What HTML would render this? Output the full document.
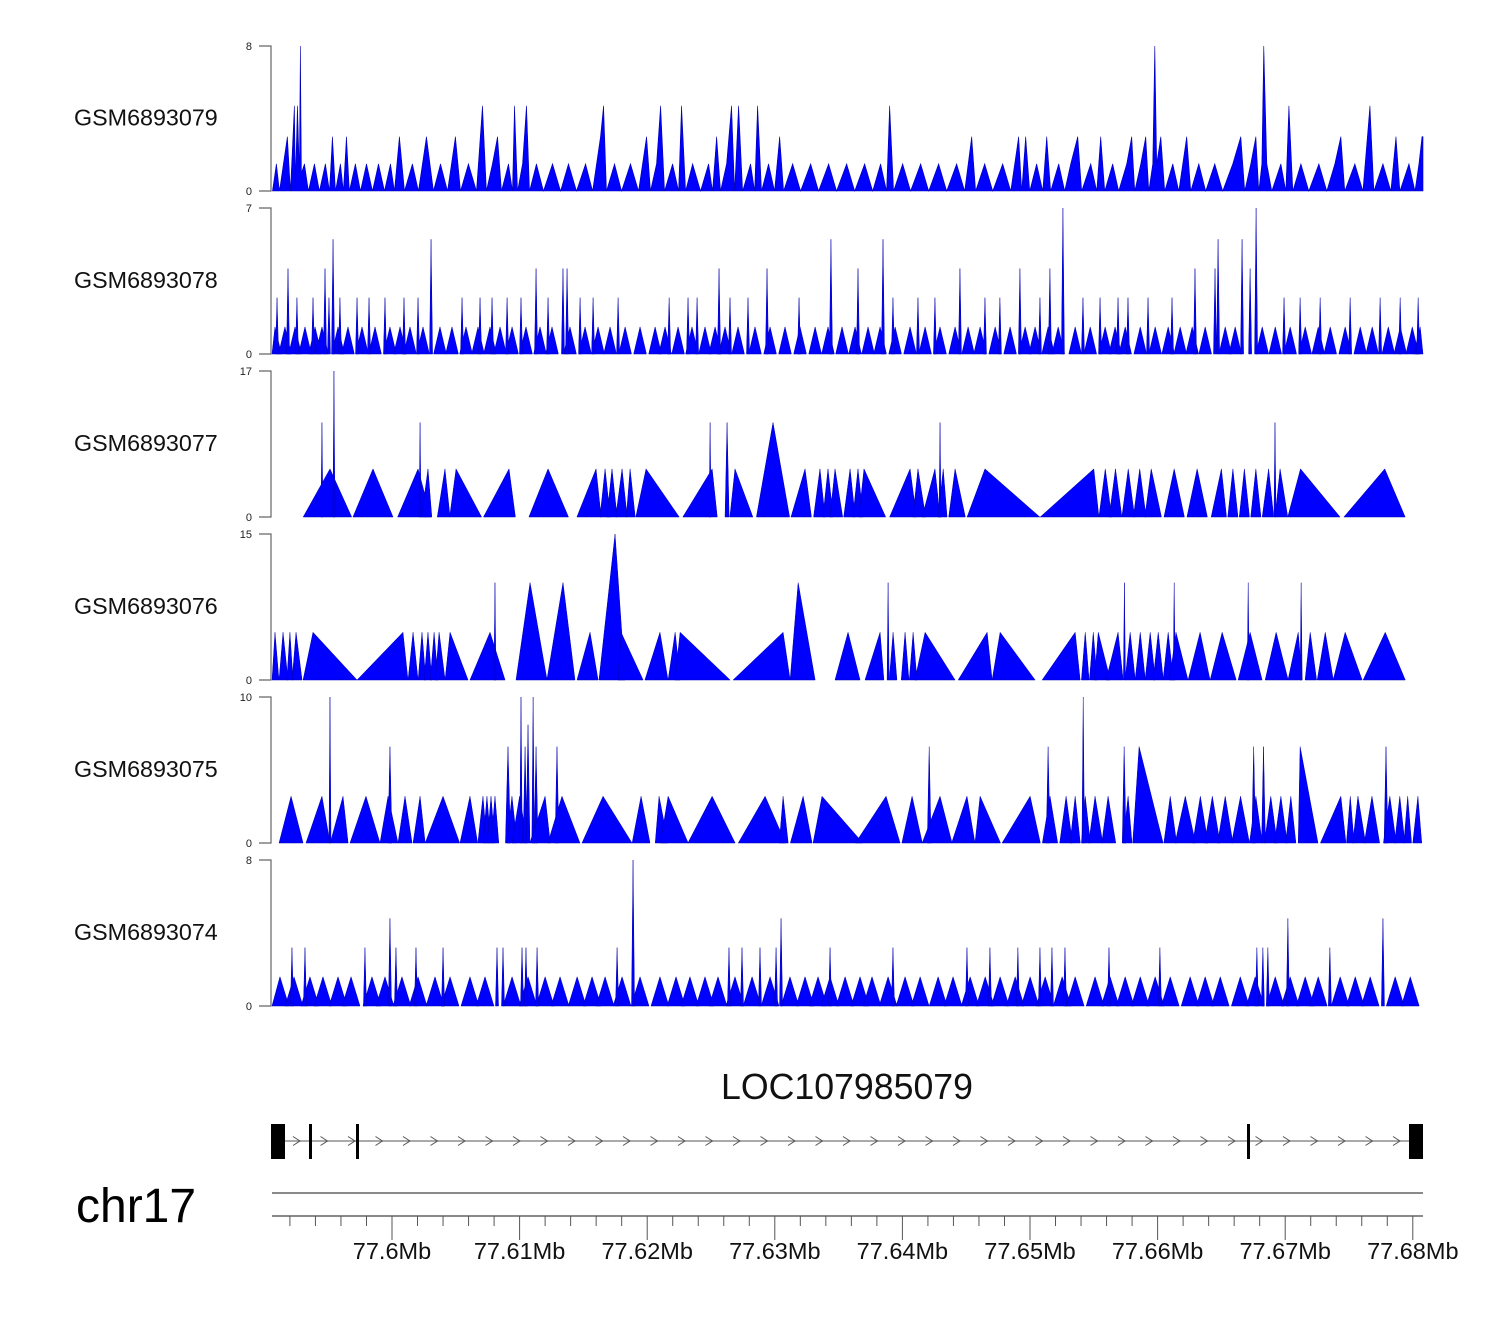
<!DOCTYPE html>
<html><head><meta charset="utf-8">
<style>
html,body{margin:0;padding:0;background:#fff;}
svg{display:block;font-family:"Liberation Sans",Arial,sans-serif;}
</style></head>
<body>
<svg id="chart" width="1500" height="1320" viewBox="0 0 1500 1320" xmlns="http://www.w3.org/2000/svg"></svg>
<script>
// ---- genomic positions in kb offset from 77,590 kb ----
const track1Pos=[0.63,0.94,1.18,1.49,1.80,2.04,2.35,2.43,2.59,2.74,2.82,2.90,3.14,3.45,3.92,4.31,4.78,5.10,5.33,5.57,5.96,6.19,6.43,6.66,7.13,7.53,8.0,8.47,8.94,9.41,9.88,10.19,10.58,10.98,11.6,12.07,12.7,13.25,13.8,14.35,14.97,15.37,15.99,16.62,17.09,17.4,17.87,18.27,18.58,19.13,19.44,19.6,19.84,20.23,20.54,20.78,21.32,21.87,22.58,23.21,23.83,24.46,25.17,25.72,26.34,26.58,26.81,27.44,27.99,28.69,29.32,29.95,30.26,30.73,31.05,31.36,31.99,32.46,32.69,33.01,33.56,34.18,34.81,35.12,35.44,35.75,36.22,36.61,36.85,37.16,37.48,38.1,38.42,38.65,38.96,39.51,39.98,40.38,40.69,41.4,42.02,42.81,43.43,44.22,44.84,45.63,46.26,47.04,47.67,48.29,48.76,49.0,49.31,50.02,50.64,51.43,52.06,52.84,53.47,54.25,54.88,55.43,55.74,56.45,57.08,57.86,58.49,59.11,59.35,59.66,59.98,60.52,61.0,61.31,61.62,62.25,62.72,63.19,63.74,64.05,64.76,65.23,65.54,65.86,66.48,66.95,67.58,67.97,68.21,68.68,69.07,69.31,69.62,69.78,69.93,70.25,70.56,71.19,71.66,72.28,72.6,73.23,73.77,74.48,75.1,75.89,76.52,76.83,77.3,77.7,77.93,78.17,78.32,78.56,78.95,79.66,80.05,80.29,80.6,81.23,81.85,82.64,83.26,83.89,84.36,84.67,85.46,86.09,86.64,86.95,87.66,88.28,88.68,88.99,89.7,90.17,90.48,90.72,90.87];
const track1Val=[0,1.5,0,1.5,3,0,4.7,0.5,4.7,1,8,1,1.5,0,1.5,0,1.5,0,3,0,1.5,0,3,0,1.5,0,1.5,0,1.5,0,1.5,0,3,0,1.5,0,3,0,1.5,0,3,0,1.5,0,4.7,0,1.5,3,0,1.5,0,4.7,0,1.5,4.7,0,1.5,0,1.5,0,1.5,0,1.5,0,3,4.7,0,1.5,0,1.5,0,3,0,1.5,4.7,0,1.5,0,4.7,0,1.5,0,1.5,0,3,0,1.5,4.7,0,4.7,0,1.5,0,4.7,0,1.5,0,3,0,1.5,0,1.5,0,1.5,0,1.5,0,1.5,0,1.5,0,4.7,0,1.5,0,1.5,0,1.5,0,1.5,0,3,0,1.5,0,1.5,0,3,0,3,0,1.5,0,3,0,1.5,0,1.5,3,0,1.5,0,3,0,1.5,0,1.5,3,0,1.5,3,0,1.5,8,1.5,3,0,1.5,0,3,0,1.5,0,1.5,0,1.5,3,0,1.5,3,0,1.5,8,1.5,0,1.5,0,4.7,0,1.5,0,1.5,0,1.5,3,0,1.5,0,4.7,0,1.5,0,3,0,1.5,0,1.5,3,3];

const track2BgPos=[0.83,1.61,2.40,3.18,3.97,4.51,5.77,6.55,7.65,8.67,9.84,10.63,11.41,12.43,13.76,14.70,15.80,16.74,17.68,18.47,19.41,20.50,21.60,22.54,23.95,25.13,26.15,27.09,28.27,29.44,30.62,31.40,32.42,33.51,34.53,35.32,36.10,37.12,38.45,39.63,40.80,41.98,43.16,44.17,45.27,46.29,47.31,48.25,49.43,50.60,51.78,52.95,54.13,55.15,56.09,57.27,58.44,59.62,60.40,61.42,62.21,63.54,64.72,65.89,66.67,67.46,68.64,69.81,70.83,71.77,72.71,73.73,75.30,76.08,78.20,79.22,80.39,81.57,82.59,83.53,84.70,85.88,86.82,88.08,89.02,89.96,90.58];
const track2BgVal=[1.3,1.3,1.3,1.3,1.3,1.3,1.3,1.3,1.3,1.3,1.3,1.3,1.3,1.3,1.3,1.3,1.3,1.3,1.3,1.3,1.3,1.3,1.3,1.3,1.3,1.3,1.3,1.3,1.3,1.3,1.3,1.3,1.3,1.3,1.3,1.3,1.3,1.3,1.3,1.3,1.3,1.3,1.3,1.3,1.3,1.3,1.3,1.3,1.3,1.3,1.3,1.3,1.3,1.3,1.3,1.3,1.3,1.3,1.3,1.3,1.3,1.3,1.3,1.3,1.3,1.3,1.3,1.3,1.3,1.3,1.3,1.3,1.3,1.3,1.3,1.3,1.3,1.3,1.3,1.3,1.3,1.3,1.3,1.3,1.3,1.3,1.3];
const track2SpikePos=[0.99,1.85,2.55,3.81,4.75,5.06,5.38,5.92,7.26,8.20,9.45,10.94,12.04,13.06,15.49,16.90,17.84,19.02,20.11,21.29,22.23,23.40,23.72,24.74,25.76,27.72,31.72,33.20,33.91,35.63,36.49,37.90,39.39,41.90,44.40,46.52,48.48,49.26,51.22,52.55,54.51,56.47,57.64,59.21,60.78,61.56,62.58,64.15,65.49,66.90,67.68,69.25,71.13,72.93,74.50,74.74,76.62,77.25,77.72,79.91,81.17,82.74,85.09,87.44,89.01,90.42];
const track2SpikeVal=[2.7,4.1,2.7,2.7,4.1,2.7,5.5,2.7,2.7,2.7,2.7,2.7,2.7,5.5,2.7,2.7,2.7,2.7,2.7,4.1,2.7,4.1,4.1,2.7,2.7,2.7,2.7,2.7,2.7,4.1,2.7,2.7,4.1,2.7,5.5,4.1,5.5,2.7,2.7,2.7,4.1,2.7,2.7,4.1,2.7,4.1,7,2.7,2.7,2.7,2.7,2.7,2.7,4.1,4.1,5.5,5.5,4.1,7,2.7,2.7,2.7,2.7,2.7,2.7,2.7];

const track3Pos=[4.51,5.14,5.45,8.51,12.04,12.2,12.82,14.15,15.02,19.17,22.23,25.99,26.7,27.24,28.03,28.66,29.91,34.93,35.09,36.26,36.88,39.86,42.37,43.54,44.17,44.72,45.90,46.52,46.99,50.60,51.22,52.55,52.95,53.2,54.13,56.47,65.0,65.9,66.7,67.7,68.6,69.5,71.3,73.1,75.0,75.9,76.8,77.7,78.7,79.2,79.6,81.2,87.8];
const track3Val=[11,5.6,17,5.6,5.6,11,5.6,5.6,5.6,5.6,5.6,5.6,5.6,5.6,5.6,5.6,5.6,11,5.6,11,5.6,11,5.6,5.6,5.6,5.6,5.6,5.6,5.6,5.6,5.6,5.6,11,5.6,5.6,5.6,5.6,5.6,5.6,5.6,5.6,5.6,5.6,5.6,5.6,5.6,5.6,5.6,5.6,11,5.6,5.6,5.6];
const track3Left=[.08,2.1,.08,1.57,1.6,.08,.5,.6,.5,2.0,1.5,1.5,.4,.4,.5,.3,.8,.08,2.3,.16,.4,1.3,1.1,.5,.4,.4,.5,.4,.4,1.6,.4,1.0,.08,.4,.5,1.4,4.2,.5,.5,.5,.5,.5,.8,.8,.8,.4,.4,.4,.5,.08,.4,1.0,3.2];
const track3Right=[.08,1.7,.08,1.57,1.0,.08,.3,.4,2.0,.5,1.6,.4,.4,.4,.4,.4,2.6,.08,.4,.16,1.4,1.3,.5,.4,.4,.6,.4,.4,1.7,.5,.6,.4,.08,.3,.8,4.3,.4,.5,.5,.5,.5,.8,.8,.8,.4,.4,.4,.4,.4,.08,.6,3.1,1.6];

const track4Pos=[0.83,1.46,2.0,2.48,3.81,10.86,11.65,12.35,12.82,13.3,13.69,14.55,17.68,18.07,20.82,23.4,25.52,27.48,27.95,31.0,32.19,32.58,40.65,41.83,45.74,48.25,48.88,49.27,50.21,50.84,51.78,56.64,57.66,63.54,64.33,64.96,65.35,66.9,67.4,67.85,68.64,69.42,70.05,70.83,71.3,71.44,73.33,75.06,77.1,77.25,79.29,81.02,81.25,81.96,83.14,84.7,87.84];
const track4Val=[4.9,4.9,4.9,4.9,4.9,4.9,4.9,4.9,4.9,4.9,4.9,4.9,4.9,10,10,10,4.9,15,4.9,4.9,4.9,4.9,4.9,10,4.9,4.9,10,4.9,4.9,4.9,4.9,4.9,4.9,4.9,4.9,4.9,4.9,4.9,10,4.9,4.9,4.9,4.9,4.9,10,4.9,4.9,4.9,10,4.9,4.9,4.9,10,4.9,4.9,4.9,4.9];
const track4Left=[.23,.31,.24,.31,.78,3.6,.39,.3,.3,.3,.3,.39,1.57,.08,1.1,1.26,1.02,1.26,.24,1.18,.55,.4,3.92,.63,1.02,1.18,.08,.3,.3,.3,.8,2.27,.63,2.59,.3,.3,.3,.94,.08,.4,.4,.4,.4,.4,.08,.5,.94,.94,.08,.94,.86,.8,.08,.4,.63,.94,1.73];
const track4Right=[.31,.39,.24,.47,3.45,.39,.39,.3,.3,.3,.47,1.41,1.18,.08,1.33,.94,.63,.78,1.73,.63,.4,3.92,.55,1.33,.94,.3,.08,.3,.3,.3,2.35,.39,2.74,.39,.3,.3,.94,.4,.08,.4,.4,.4,.4,.4,.08,.94,.78,1.1,.08,.94,.94,.3,.08,.5,.63,1.33,1.57];

const track5Pos=[2.09,4.51,5.14,6.16,7.96,9.84,9.69,11.02,12.2,14.0,16.11,17.13,17.44,17.76,18.07,19.09,19.4,20.0,20.11,20.43,20.66,21.06,21.29,22.0,22.93,23.32,26.54,29.52,30.93,31.64,35.09,39.24,40.65,42.22,43.7,48.72,50.76,52.1,52.95,55.06,56.09,60.01,61.42,61.57,62.83,63.54,64.17,64.33,65.1,66.12,67.38,67.69,68.55,70.99,72.17,73.35,74.29,75.3,76.5,77.53,77.7,78.3,78.87,79.66,80.44,81.17,84.36,85.1,85.7,86.8,87.9,88.2,88.98,89.6,90.4];
const track5Val=[3.2,3.2,10,3.2,3.2,6.6,3.2,3.2,3.2,3.2,3.2,3.2,3.2,3.2,3.2,6.6,3.2,3.2,10,6.6,8.1,10,6.6,3.2,6.6,3.2,3.2,3.2,3.2,3.2,3.2,3.2,3.2,3.2,3.2,3.2,3.2,6.6,3.2,3.2,3.2,3.2,6.6,3.2,3.2,3.2,10,3.2,3.2,3.2,6.6,3.2,6.6,3.2,3.2,3.2,3.2,3.2,3.2,6.6,3.2,6.6,3.2,3.2,3.2,6.6,3.2,3.2,3.2,3.2,6.6,3.2,3.2,3.2,3.2];
const track5Left=[.94,1.25,.08,1.0,1.25,.16,.63,.55,.55,1.4,.78,.4,.3,.3,.3,.2,.4,.6,.1,.15,.15,.1,.15,1.2,.15,1.1,1.65,.7,.3,.6,1.9,2.1,.3,1.0,.7,2.4,.8,.15,1.4,1.2,.4,2.2,.15,.6,.5,.4,.1,.3,.5,.5,.15,.4,.5,.5,.8,.6,.6,.6,.7,.15,.5,.15,.5,.5,.4,.15,1.6,.3,.4,.6,.15,.5,.4,.3,.4];
const track5Right=[.94,.63,.08,.4,1.1,.16,.78,.55,.4,1.3,.6,.3,.3,.3,.3,.2,.4,.6,.1,.15,.15,.1,.15,.4,.15,1.41,2.27,.7,.7,1.57,1.8,1.6,.4,.7,3.2,1.1,.8,.15,.94,.63,1.6,.8,.15,.6,.5,.4,.1,.4,.6,.6,.15,.3,1.88,.5,.8,.6,.6,.6,.7,.15,.5,.15,.5,.5,.4,1.4,.4,.3,.6,.6,.15,.5,.4,.3,.3];

const track6BgPos=[1.22,2.32,3.57,4.59,5.77,6.79,8.43,9.45,10.78,12.04,13.37,14.55,16.11,17.29,19.41,20.66,22.0,23.17,24.51,25.68,26.70,28.03,29.44,31.0,32.26,33.35,34.53,35.55,36.88,38.22,39.63,41.19,42.37,43.39,44.33,45.51,46.68,47.62,48.88,50.21,51.39,52.80,53.97,55.31,56.49,57.66,58.84,60.01,61.19,62.52,63.54,65.10,66.28,67.46,68.64,69.81,70.99,72.55,73.73,74.91,76.48,77.65,79.22,80.39,81.57,82.59,84.31,85.49,86.66,88.62,89.80];
const track6BgVal=[1.6,1.6,1.6,1.6,1.6,1.6,1.6,1.6,1.6,1.6,1.6,1.6,1.6,1.6,1.6,1.6,1.6,1.6,1.6,1.6,1.6,1.6,1.6,1.6,1.6,1.6,1.6,1.6,1.6,1.6,1.6,1.6,1.6,1.6,1.6,1.6,1.6,1.6,1.6,1.6,1.6,1.6,1.6,1.6,1.6,1.6,1.6,1.6,1.6,1.6,1.6,1.6,1.6,1.6,1.6,1.6,1.6,1.6,1.6,1.6,1.6,1.6,1.6,1.6,1.6,1.6,1.6,1.6,1.6,1.6,1.6];
const track6SpikePos=[2.16,3.18,7.88,9.84,10.31,11.88,14.0,18.23,18.70,20.19,20.50,21.37,27.64,28.89,36.41,37.43,38.84,40.10,40.49,44.33,49.26,55.06,56.86,59.05,60.78,61.72,62.74,66.19,70.18,77.78,78.25,78.64,80.21,83.50,87.66];
const track6SpikeVal=[3.2,3.2,3.2,4.8,3.2,3.2,3.2,3.2,3.2,3.2,3.2,3.2,3.2,8,3.2,3.2,3.2,3.2,4.8,3.2,3.2,3.2,3.2,3.2,3.2,3.2,3.2,3.2,3.2,3.2,3.2,3.2,4.8,3.2,4.8];

const trackNames=["GSM6893079","GSM6893078","GSM6893077","GSM6893076","GSM6893075","GSM6893074"];
const trackMax=[8,7,17,15,10,8];
const axisMajorLabels=["77.6Mb","77.61Mb","77.62Mb","77.63Mb","77.64Mb","77.65Mb","77.66Mb","77.67Mb","77.68Mb"];
const axisMajorKb=[10,20,30,40,50,60,70,80,90];

const NS="http://www.w3.org/2000/svg";
const svg=document.getElementById('chart');
const X0=272,X1=1423;
function xs(kb){return 264.4+kb*12.76;}
function cx(x){return Math.max(X0,Math.min(X1,x));}
function mk(tag,attrs,parent){const e=document.createElementNS(NS,tag);for(const k in attrs)e.setAttribute(k,attrs[k]);(parent||svg).appendChild(e);return e;}

const tracks=[{top:46,bot:191},{top:208,bot:354},{top:371,bot:517},{top:534,bot:680},{top:697,bot:843},{top:860,bot:1006}];

function ys(t,i,v){return tracks[i].bot-(v/trackMax[i])*(tracks[i].bot-tracks[i].top);}

function tri(g,i,pos,val,wl,wr){
  const xl=cx(xs(pos-wl)),xr=cx(xs(pos+wr)),xp=cx(xs(pos)),b=tracks[i].bot,yt=ys(null,i,val);
  const p=mk('polygon',{points:xl+','+b+' '+xp+','+yt+' '+xr+','+b,fill:'#0000ff',stroke:'#0000b0','stroke-width':0.5,'stroke-linejoin':'miter'},g);
  
  
}

tracks.forEach((t,i)=>{
  const g=mk('g',{});
  
  
  const lab=mk('text',{x:74,y:(t.top+t.bot)/2+7,'font-size':23.3,fill:'#111'},g);
  lab.textContent=trackNames[i];
  
  
  const ax=mk('path',{d:'M259,'+t.top+'H271V'+t.bot+'H259',fill:'none',stroke:'#666','stroke-width':1.2},g);
  
  
  const tt=mk('text',{x:252,y:t.top+4,'font-size':11,'text-anchor':'end',fill:'#222'},g);
  tt.textContent=String(trackMax[i]);
  
  
  const tb=mk('text',{x:252,y:t.bot+4,'font-size':11,'text-anchor':'end',fill:'#222'},g);
  tb.textContent='0';
  
  
  t.g=g;
});

// track 1: line coverage
{
  const b=tracks[0].bot;
  let pts=xs(track1Pos[0])+','+b;
  for(let k=0;k<track1Pos.length;k++){pts+=' '+cx(xs(track1Pos[k]))+','+ys(null,0,track1Val[k]);}
  pts+=' '+cx(xs(track1Pos[track1Pos.length-1]))+','+b;
  const p=mk('polygon',{points:pts,fill:'#0000ff',stroke:'#0000b0','stroke-width':0.6},tracks[0].g);
  
  
}
// track 2
track2BgPos.forEach((p,k)=>tri(tracks[1].g,1,p,track2BgVal[k],0.5,0.5));
track2SpikePos.forEach((p,k)=>tri(tracks[1].g,1,p,track2SpikeVal[k],0.12,0.12));
// track 3-5
track3Pos.forEach((p,k)=>tri(tracks[2].g,2,p,track3Val[k],track3Left[k],track3Right[k]));
track4Pos.forEach((p,k)=>tri(tracks[3].g,3,p,track4Val[k],track4Left[k],track4Right[k]));
track5Pos.forEach((p,k)=>tri(tracks[4].g,4,p,track5Val[k],track5Left[k],track5Right[k]));
// track 6
track6BgPos.forEach((p,k)=>tri(tracks[5].g,5,p,track6BgVal[k],0.7,0.7));
track6SpikePos.forEach((p,k)=>tri(tracks[5].g,5,p,track6SpikeVal[k],0.12,0.12));

// gene model
{
  const g=mk('g',{});
  
  
  const t=mk('text',{x:847,y:1099,'font-size':35.7,'text-anchor':'middle',fill:'#111'},g);
  t.textContent='LOC107985079';
  
  
  const l=mk('line',{x1:272,y1:1141,x2:1423,y2:1141,stroke:'#777','stroke-width':1.2},g);
  
  
  for(let x=297;x<1410;x+=27.5){
    const c=mk('path',{d:'M'+(x-4)+',1136.5L'+(x+3)+',1141L'+(x-4)+',1145.5',fill:'none',stroke:'#555','stroke-width':1},g);
    
    
  }
  [[271,14],[309,3],[356,3],[1247,3],[1409,14]].forEach(e=>{
    const r=mk('rect',{x:e[0],y:1124,width:e[1],height:35,fill:'#000'},g);
    
    
  });
}
// chromosome axis
{
  const g=mk('g',{});
  
  
  const c=mk('text',{x:76,y:1222,'font-size':48,fill:'#000'},g);
  c.textContent='chr17';
  
  
  mk('line',{x1:272,y1:1193,x2:1423,y2:1193,stroke:'#444','stroke-width':1.2},g);
  mk('line',{x1:272,y1:1216,x2:1423,y2:1216,stroke:'#444','stroke-width':1.2},g);
  for(let kb=2;kb<=90;kb+=2){
    const x=xs(kb); if(x<X0)continue;
    const major=kb%10===0;
    const tk=mk('line',{x1:x,y1:1216,x2:x,y2:major?1240:1226,stroke:'#555','stroke-width':1},g);
    
    
  }
  axisMajorKb.forEach((kb,k)=>{
    const t=mk('text',{x:xs(kb),y:1259,'font-size':23.5,'text-anchor':'middle',fill:'#111'},g);
    t.textContent=axisMajorLabels[k];
    
    
  });
}
</script>
</body></html>
